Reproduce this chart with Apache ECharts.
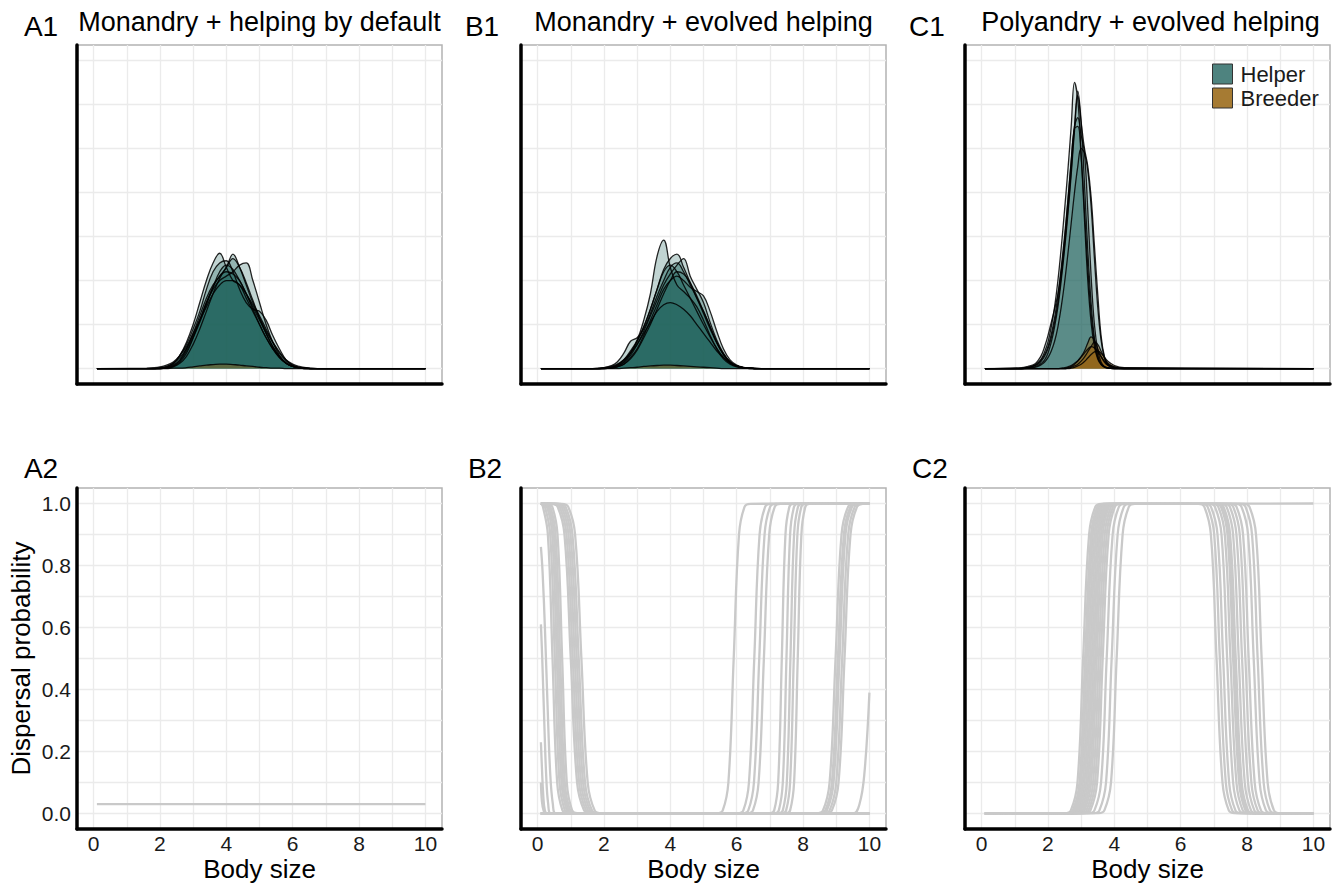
<!DOCTYPE html>
<html><head><meta charset="utf-8">
<script src="https://cdn.jsdelivr.net/npm/echarts@6/dist/echarts.min.js"></script>
<style>html,body{margin:0;padding:0;background:#fff}#chart{width:1338px;height:884px}</style>
</head><body><div id="chart"></div>
<script>
// ---------------- DATA ----------------
const panelTags = ['A1', 'B1', 'C1', 'A2', 'B2', 'C2'];
const panelTitles = ['Monandry + helping by default', 'Monandry + evolved helping', 'Polyandry + evolved helping'];
const xAxisTitle = 'Body size';
const yAxisTitle = 'Dispersal probability';
const xTickLabels = [0, 2, 4, 6, 8, 10];
const yTickLabels = [0, 0.2, 0.4, 0.6, 0.8, 1.0];

// density grid (body size) for A1/B1
const abX = [0.1,1.6,1.8,2.0,2.2,2.4,2.6,2.8,3.0,3.2,3.4,3.6,3.8,4.0,4.2,4.4,4.6,4.8,5.0,5.2,5.4,5.6,5.8,6.0,6.2,6.4,6.6,6.8,10];
const a1Helper = [
 [0,0,0,0.01,0.03,0.1,0.3,0.6,1.0,1.5,2.0,2.4,2.62,2.3,2.0,1.9,1.6,1.3,1.0,0.7,0.45,0.25,0.12,0.05,0.02,0.01,0,0,0],
 [0,0,0,0,0.02,0.08,0.2,0.45,0.8,1.2,1.6,1.9,2.1,2.3,2.6,2.3,1.9,1.5,1.2,0.9,0.6,0.35,0.18,0.07,0.02,0,0,0,0],
 [0,0,0,0.01,0.04,0.12,0.3,0.55,0.9,1.3,1.8,2.2,2.4,2.45,2.2,1.8,1.5,1.35,1.3,1.1,0.75,0.45,0.2,0.08,0.03,0.01,0,0,0],
 [0,0,0,0,0.01,0.05,0.15,0.35,0.7,1.1,1.5,1.8,2.0,2.1,2.2,2.35,2.4,2.0,1.5,1.0,0.6,0.3,0.12,0.05,0.02,0,0,0,0],
 [0,0,0,0.02,0.05,0.12,0.25,0.45,0.75,1.1,1.5,1.85,2.1,2.2,2.15,2.0,1.7,1.35,1.0,0.7,0.45,0.25,0.12,0.05,0.02,0.01,0,0,0],
 [0,0.01,0.02,0.04,0.08,0.15,0.3,0.5,0.8,1.1,1.4,1.7,1.9,2.0,2.0,1.9,1.7,1.45,1.15,0.85,0.6,0.38,0.2,0.1,0.05,0.02,0.01,0,0],
 [0,0,0,0,0.02,0.06,0.18,0.4,0.7,1.05,1.45,1.85,2.2,2.35,2.25,2.0,1.7,1.4,1.1,0.8,0.5,0.28,0.13,0.05,0.02,0,0,0,0],
 [0,0,0,0,0.01,0.04,0.12,0.28,0.55,0.9,1.3,1.7,2.05,2.3,2.5,2.3,1.95,1.55,1.15,0.8,0.5,0.27,0.12,0.05,0.02,0.01,0,0,0]
];
const a1Breeder = [
 [0,0,0,0,0,0.01,0.01,0.02,0.04,0.06,0.08,0.09,0.1,0.1,0.09,0.08,0.06,0.05,0.03,0.02,0.01,0.01,0,0,0,0,0,0,0]
];
const b1Helper = [
 [0,0,0,0.01,0.03,0.08,0.2,0.4,0.65,1.1,1.7,2.55,2.92,2.3,1.9,1.75,1.6,1.4,1.1,0.75,0.45,0.22,0.1,0.04,0.02,0.01,0,0,0],
 [0,0,0,0.01,0.02,0.06,0.15,0.35,0.62,0.95,1.35,1.8,2.25,2.5,2.6,2.3,1.95,1.6,1.25,0.9,0.58,0.32,0.15,0.06,0.02,0.01,0,0,0],
 [0,0,0,0,0.01,0.05,0.13,0.3,0.55,0.85,1.2,1.55,1.9,2.15,2.35,2.5,2.1,1.8,1.5,1.05,0.65,0.35,0.15,0.06,0.02,0,0,0,0],
 [0,0,0,0.02,0.06,0.15,0.35,0.62,0.7,0.9,1.25,1.65,2.0,2.3,2.4,2.2,1.9,1.6,1.3,0.95,0.6,0.33,0.15,0.06,0.02,0.01,0,0,0],
 [0,0,0,0,0.01,0.04,0.1,0.25,0.45,0.75,1.1,1.45,1.8,2.0,2.1,2.0,1.85,1.75,1.65,1.3,0.85,0.45,0.2,0.08,0.03,0.01,0,0,0],
 [0,0,0.01,0.02,0.05,0.1,0.2,0.35,0.55,0.8,1.05,1.3,1.45,1.5,1.45,1.35,1.2,1.0,0.8,0.6,0.4,0.25,0.13,0.06,0.03,0.02,0.01,0,0],
 [0,0,0,0,0.01,0.04,0.1,0.22,0.42,0.7,1.0,1.35,1.7,2.0,2.2,2.15,1.95,1.65,1.3,0.95,0.6,0.33,0.15,0.06,0.02,0,0,0,0],
 [0,0,0,0.01,0.03,0.08,0.18,0.36,0.62,0.95,1.35,1.8,2.2,2.35,2.2,1.9,1.6,1.3,1.0,0.72,0.46,0.26,0.12,0.05,0.02,0.01,0,0,0]
];
const b1Breeder = [
 [0,0,0,0,0,0,0.01,0.02,0.03,0.05,0.06,0.07,0.08,0.08,0.07,0.06,0.05,0.04,0.03,0.02,0.01,0,0,0,0,0,0,0,0]
];
// density grid for C1
const cX = [0.1,1.2,1.4,1.6,1.7,1.8,1.9,2.0,2.1,2.2,2.3,2.4,2.5,2.6,2.7,2.8,2.9,3.0,3.1,3.2,3.3,3.4,3.5,3.6,3.7,3.8,4.0,4.3,10];
const c1Helper = [
 [0,0,0.02,0.08,0.14,0.22,0.38,0.6,0.95,1.4,2.0,2.75,3.6,4.5,5.5,6.5,6.1,4.9,3.4,2.0,1.05,0.5,0.22,0.09,0.04,0.02,0,0,0],
 [0,0,0.01,0.04,0.07,0.12,0.2,0.35,0.6,0.95,1.4,2.0,2.7,3.5,4.4,5.4,6.2,5.6,5.0,4.6,3.9,2.8,1.7,0.75,0.28,0.1,0.02,0,0],
 [0,0.01,0.03,0.07,0.12,0.2,0.32,0.5,0.78,1.15,1.65,2.3,3.0,3.8,4.7,5.5,5.7,5.3,4.9,3.6,2.1,1.0,0.42,0.15,0.05,0.02,0,0,0],
 [0,0,0.02,0.06,0.1,0.17,0.28,0.45,0.7,1.05,1.5,2.1,2.8,3.6,4.5,5.5,6.3,5.6,4.2,2.7,1.5,0.7,0.3,0.11,0.04,0.01,0,0,0],
 [0,0.02,0.05,0.1,0.18,0.3,0.5,0.75,1.05,1.35,1.7,2.2,2.9,3.8,4.7,5.45,5.5,4.8,3.6,2.3,1.25,0.6,0.25,0.1,0.03,0.01,0,0,0],
 [0,0,0.01,0.03,0.05,0.09,0.15,0.25,0.4,0.62,0.95,1.4,1.95,2.6,3.3,4.0,4.6,5.0,4.9,4.5,3.7,2.5,1.4,0.65,0.25,0.08,0.01,0,0]
];
const c1Breeder = [
 [0,0,0,0,0,0,0,0,0,0,0,0,0,0.02,0.05,0.1,0.17,0.27,0.4,0.58,0.72,0.65,0.45,0.28,0.15,0.08,0.02,0,0],
 [0,0,0,0,0,0,0,0,0,0,0,0,0,0.01,0.03,0.06,0.1,0.17,0.26,0.38,0.5,0.6,0.55,0.4,0.25,0.13,0.04,0.01,0],
 [0,0,0,0,0,0,0,0,0,0,0,0.01,0.02,0.04,0.07,0.12,0.18,0.26,0.35,0.44,0.5,0.47,0.38,0.27,0.17,0.1,0.04,0.01,0],
 [0,0,0,0,0,0,0,0,0,0,0,0,0,0,0.01,0.03,0.06,0.1,0.16,0.24,0.32,0.38,0.4,0.35,0.26,0.17,0.07,0.02,0]
];

// dispersal curves: body size at which each curve crosses the listed probability levels
const riseLevels = [0.001, 0.01, 0.1, 0.5, 0.9, 0.99, 0.999];
const fallLevels = [0.999, 0.99, 0.9, 0.5, 0.1, 0.01, 0.001];
const a2Lines = [[[0.1, 0.03], [10, 0.03]]];
const b2Fall = [
 [0.11,0.16,0.31,0.45,0.59,0.75,0.90],[0.12,0.22,0.38,0.52,0.66,0.82,0.97],
 [0.13,0.28,0.44,0.58,0.72,0.88,1.03],[0.18,0.33,0.49,0.63,0.77,0.93,1.08],
 [0.23,0.38,0.54,0.68,0.82,0.98,1.13],[0.29,0.44,0.60,0.74,0.88,1.04,1.19],
 [0.40,0.60,0.81,1.00,1.19,1.40,1.60],[0.46,0.66,0.87,1.06,1.25,1.46,1.66],
 [0.52,0.72,0.93,1.12,1.31,1.52,1.72],[0.58,0.78,0.99,1.18,1.37,1.58,1.78],
 [0.64,0.84,1.05,1.24,1.43,1.64,1.84],[0.72,0.92,1.13,1.32,1.51,1.72,1.92]
];
const b2Rise = [
 [5.41,5.58,5.75,5.91,6.07,6.24,6.41],[6.03,6.20,6.37,6.53,6.69,6.86,7.03],
 [6.18,6.35,6.52,6.68,6.84,7.01,7.18],[6.32,6.49,6.66,6.82,6.98,7.15,7.32],
 [7.01,7.13,7.25,7.36,7.47,7.59,7.71],[7.15,7.27,7.39,7.50,7.61,7.73,7.85],
 [7.27,7.39,7.51,7.62,7.73,7.85,7.97],[7.37,7.49,7.61,7.72,7.83,7.95,8.07],
 [7.49,7.61,7.73,7.84,7.95,8.07,8.19],[8.40,8.60,8.80,8.98,9.16,9.36,9.56],
 [8.47,8.67,8.87,9.05,9.23,9.43,9.63],[8.52,8.72,8.92,9.10,9.28,9.48,9.68],
 [8.60,8.80,9.00,9.18,9.36,9.56,9.76],[8.67,8.87,9.07,9.25,9.43,9.63,9.83]
];
const b2Other = [
 [[0.1,0.86],[0.15,0.78],[0.22,0.6],[0.3,0.35],[0.38,0.13],[0.46,0.03],[0.55,0],[10,0]],
 [[0.1,0.61],[0.14,0.5],[0.2,0.3],[0.26,0.12],[0.32,0.03],[0.4,0],[10,0]],
 [[0.1,0.23],[0.13,0.15],[0.17,0.06],[0.22,0.01],[0.3,0],[10,0]],
 [[0.1,0.1],[0.13,0.04],[0.18,0.01],[0.25,0],[10,0]],
 [[0.1,0],[9.5,0],[9.7,0.03],[9.85,0.13],[10,0.39]]
];
const c2Rise = [
 [2.51,2.69,2.89,3.06,3.24,3.43,3.61],[2.57,2.75,2.95,3.12,3.30,3.49,3.67],
 [2.62,2.80,3.00,3.17,3.35,3.54,3.72],[2.67,2.85,3.05,3.22,3.40,3.59,3.77],
 [2.72,2.90,3.10,3.27,3.45,3.64,3.82],[2.77,2.95,3.15,3.32,3.50,3.69,3.87],
 [2.82,3.00,3.20,3.37,3.55,3.74,3.92],[2.87,3.05,3.25,3.42,3.60,3.79,3.97],
 [2.92,3.10,3.30,3.47,3.65,3.84,4.02],[2.98,3.16,3.36,3.53,3.71,3.90,4.08],
 [3.04,3.22,3.42,3.59,3.77,3.96,4.14],[3.10,3.28,3.48,3.65,3.83,4.02,4.20],
 [3.22,3.40,3.60,3.77,3.95,4.14,4.32],[3.37,3.55,3.75,3.92,4.10,4.29,4.47],
 [3.52,3.70,3.90,4.07,4.25,4.44,4.62],[2.59,2.77,2.97,3.14,3.32,3.51,3.69]
];
const c2Fall = [
 [6.53,6.71,6.91,7.08,7.26,7.45,7.63],[6.63,6.81,7.01,7.18,7.36,7.55,7.73],
 [6.73,6.91,7.11,7.28,7.46,7.65,7.83],[6.85,7.03,7.23,7.40,7.58,7.77,7.95],
 [6.95,7.13,7.33,7.50,7.68,7.87,8.05],[7.03,7.21,7.41,7.58,7.76,7.95,8.13],
 [7.11,7.29,7.49,7.66,7.84,8.03,8.21],[7.20,7.38,7.58,7.75,7.93,8.12,8.30],
 [7.30,7.48,7.68,7.85,8.03,8.22,8.40],[7.40,7.58,7.78,7.95,8.13,8.32,8.50],
 [7.50,7.68,7.88,8.05,8.23,8.42,8.60],[7.65,7.83,8.03,8.20,8.38,8.57,8.75],
 [7.77,7.95,8.15,8.32,8.50,8.69,8.87],[7.89,8.07,8.27,8.44,8.62,8.81,8.99],
 null,
 [7.07,7.25,7.45,7.62,7.80,7.99,8.17]
];

// ---------------- CHART ----------------
const FONT = "'Liberation Sans', Arial, Helvetica, sans-serif";
const HELPER_FILL = 'rgba(25,95,88,0.27)';
const HELPER_FILL_C = 'rgba(25,95,88,0.19)';
const BREEDER_FILL = 'rgba(150,100,20,0.45)';
const OUTLINE = 'rgba(0,0,0,0.85)';
const PROB_LINE = '#c9c9c9';

const cols = [77, 521, 965];
const rows = [{top: 45, height: 339}, {top: 488, height: 341}];
const PW = 365;
const grids = [];
for (let r = 0; r < 2; r++) for (let c = 0; c < 3; c++) {
  grids.push({left: cols[c], top: rows[r].top, width: PW, height: rows[r].height,
    show: true, borderColor: '#b3b3b3', borderWidth: 1.5, backgroundColor: '#fff',
    containLabel: false, outerBoundsMode: 'none'});
}

const fmtX = v => { const t = Math.round(v * 10); return (t % 10 === 0 && xTickLabels.indexOf(t / 10) >= 0) ? String(t / 10) : ''; };
const fmtY = v => { const t = Math.round(v * 100); const hit = yTickLabels.some(y => Math.round(y * 100) === t); return hit ? (t / 100).toFixed(1) : ''; };

const topColors = [];
for (let i = 0; i < 20; i++) topColors.push(i === 7 ? '#ebebeb' : 'rgba(0,0,0,0)');

const xAxis = grids.map((g, i) => ({
  type: 'value', gridIndex: i, min: -0.5, max: 10.5, interval: 0.5,
  axisLine: {show: true, onZero: false, lineStyle: {color: '#000', width: 3.5}},
  axisTick: {show: false},
  axisLabel: {show: i >= 3, formatter: fmtX, fontSize: 21, color: '#1a1a1a', fontFamily: FONT, margin: 4, hideOverlap: false},
  splitLine: {show: true, lineStyle: {color: ['rgba(0,0,0,0)', '#ebebeb'], width: 1.3}}
}));
const yAxis = grids.map((g, i) => i < 3 ? ({
  type: 'value', gridIndex: i, min: -0.35, max: 7.35, interval: 0.05,
  axisLine: {show: true, onZero: false, lineStyle: {color: '#000', width: 3.5}},
  axisTick: {show: false}, axisLabel: {show: false},
  splitLine: {show: true, lineStyle: {color: topColors, width: 1.3}}
}) : ({
  type: 'value', gridIndex: i, min: -0.05, max: 1.05, interval: 0.05,
  axisLine: {show: true, onZero: false, lineStyle: {color: '#000', width: 3.5}},
  axisTick: {show: false},
  axisLabel: {show: i === 3, formatter: fmtY, fontSize: 21, color: '#1a1a1a', fontFamily: FONT, margin: 6, hideOverlap: false},
  splitLine: {show: true, lineStyle: {color: ['rgba(0,0,0,0)', '#ebebeb'], width: 1.3}}
}));

const series = [];
function addDensity(xs, list, gi, kind, fill) {
  list.forEach(ys => series.push({
    type: 'line', name: kind, xAxisIndex: gi, yAxisIndex: gi,
    data: xs.map((x, k) => [x, ys[k]]), smooth: 0.4, symbol: 'none', showSymbol: false,
    silent: true, animation: false, z: 3,
    lineStyle: {color: OUTLINE, width: 1.3},
    areaStyle: {color: fill, opacity: 1, origin: 'auto'}
  }));
}
addDensity(abX, a1Helper, 0, 'Helper', HELPER_FILL);
addDensity(abX, a1Breeder, 0, 'Breeder', BREEDER_FILL);
addDensity(abX, b1Helper, 1, 'Helper', HELPER_FILL);
addDensity(abX, b1Breeder, 1, 'Breeder', BREEDER_FILL);
addDensity(cX, c1Helper, 2, 'Helper', HELPER_FILL_C);
addDensity(cX, c1Breeder, 2, 'Breeder', BREEDER_FILL);

function addProb(points, gi) {
  series.push({type: 'line', xAxisIndex: gi, yAxisIndex: gi, data: points, smooth: 0.4,
    symbol: 'none', showSymbol: false, silent: true, animation: false, z: 3,
    lineStyle: {color: PROB_LINE, width: 2.3}});
}
const crossings = (row, levels) => row.map((x, k) => [x, levels[k]]);
a2Lines.forEach(p => addProb(p, 3));
b2Fall.forEach(r => addProb([[0.1, 1], ...crossings(r, fallLevels), [10, 0]], 4));
b2Rise.forEach(r => addProb([[0.1, 0], ...crossings(r, riseLevels), [10, 1]], 4));
b2Other.forEach(p => addProb(p, 4));
c2Rise.forEach((r, k) => {
  const f = c2Fall[k];
  const pts = [[0.1, 0], ...crossings(r, riseLevels)];
  if (f) pts.push(...crossings(f, fallLevels), [10, 0]); else pts.push([10, 1]);
  addProb(pts, 5);
});

const tagPos = [[41, 26], [482, 26], [927, 26], [41, 468], [485, 468], [930, 468]];
const graphic = [];
const txt = (t, x, y, size, rot) => ({type: 'text', x: x, y: y, rotation: rot || 0, silent: true,
  style: {text: t, fontSize: size, fontFamily: FONT, fill: '#000', align: 'center', verticalAlign: 'middle', textAlign: 'center', textVerticalAlign: 'middle'}});
panelTags.forEach((t, i) => graphic.push(txt(t, tagPos[i][0], tagPos[i][1], 28)));
panelTitles.forEach((t, i) => graphic.push(txt(t, cols[i] + PW / 2 + (i === 2 ? 3 : 0), 22, 27)));
cols.forEach(c => graphic.push(txt(xAxisTitle, c + PW / 2, 869, 26)));
graphic.push(txt(yAxisTitle, 21, 658.5, 26, Math.PI / 2));

const chart = echarts.init(document.getElementById('chart'), null, {renderer: 'svg', width: 1338, height: 884});
chart.setOption({
  animation: false,
  backgroundColor: '#fff',
  grid: grids, xAxis: xAxis, yAxis: yAxis, series: series, graphic: graphic,
  legend: {show: true, orient: 'vertical', left: 1212, top: 63, itemWidth: 20, itemHeight: 20, itemGap: 2,
    padding: 0, selectedMode: false,
    textStyle: {fontSize: 22, color: '#1a1a1a', fontFamily: FONT, padding: [0, 0, 0, 3]},
    data: [
      {name: 'Helper', icon: 'rect', itemStyle: {color: '#4e837f', borderColor: '#333', borderWidth: 1}},
      {name: 'Breeder', icon: 'rect', itemStyle: {color: '#a67b33', borderColor: '#333', borderWidth: 1}}
    ]}
});
</script></body></html>
